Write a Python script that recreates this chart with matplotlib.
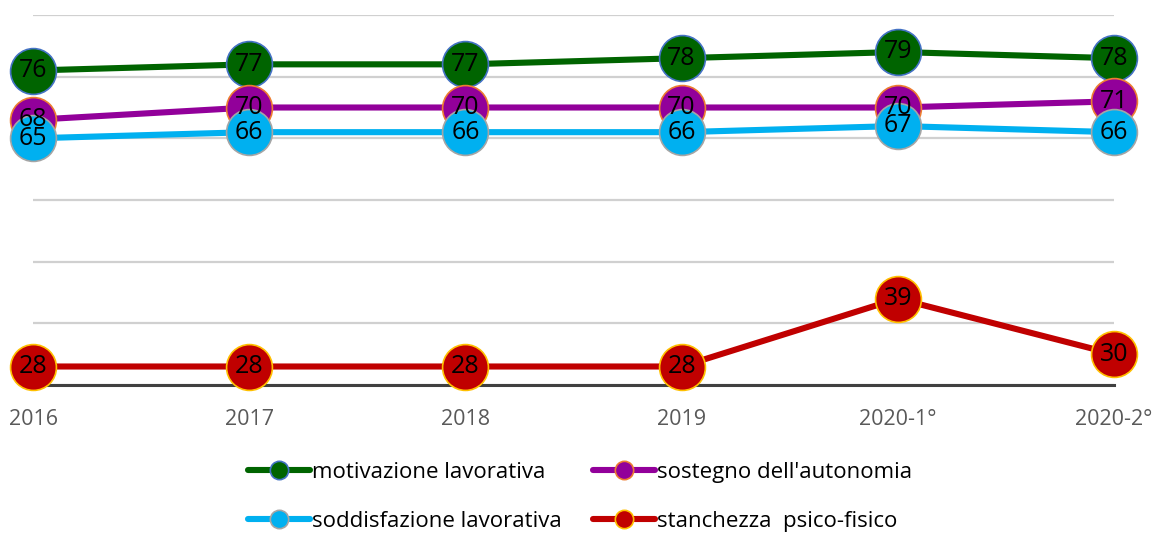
import matplotlib
matplotlib.use("Agg")
import matplotlib.pyplot as plt

# ====================== Data ======================
periods = ["2016", "2017", "2018", "2019", "2020-1°", "2020-2°"]
motivazione = [76, 77, 77, 78, 79, 78]
sostegno = [68, 70, 70, 70, 70, 71]
soddisfazione = [65, 66, 66, 66, 67, 66]
stanchezza = [28, 28, 28, 28, 39, 30]

series_names = ["motivazione lavorativa", "sostegno dell'autonomia",
                "soddisfazione lavorativa", "stanchezza  psico-fisico"]

plt.rcParams["font.family"] = ["Open Sans", "DejaVu Sans"]

# ====================== Plot ======================
fig = plt.figure(figsize=(11.61, 5.33), dpi=100)
ax = fig.add_axes([33 / 1161, 148 / 533, 1081 / 1161, 370 / 533])

x = list(range(len(periods)))
styles = [
    (motivazione, "#006400", "#4472C4"),
    (sostegno, "#92009A", "#ED7D31"),
    (soddisfazione, "#00B0F0", "#A5A5A5"),
    (stanchezza, "#C00000", "#FFC000"),
]

handles = []
for i, (vals, col, edge) in enumerate(styles):
    h, = ax.plot(x, vals, color=col, lw=4.4, marker="o", ms=33,
                 mfc=col, mec=edge, mew=1.2, zorder=3 + i, clip_on=False,
                 solid_capstyle="round", label=series_names[i])
    handles.append(h)
    # data labels sit on top of every series, like the original
    for xi, v in zip(x, vals):
        ax.text(xi, v, str(v), ha="center", va="center", fontsize=18,
                color="black", zorder=20)

ax.set_xlim(0, 5)
ax.set_ylim(25, 85)
ax.set_yticks(range(25, 86, 10))
ax.yaxis.grid(True, color="#D0D0D0", lw=1.6)
ax.set_axisbelow(True)
ax.tick_params(axis="y", left=False, labelleft=False)
ax.tick_params(axis="x", length=0, pad=17, labelsize=15.5, labelcolor="#595959")
ax.set_xticks(x)
ax.set_xticklabels(periods)
for s in ["top", "left", "right"]:
    ax.spines[s].set_visible(False)
ax.spines["bottom"].set_color("#404040")
ax.spines["bottom"].set_linewidth(2.2)
ax.spines["bottom"].set_zorder(2)

# legend: row-wise order with 2 columns
order = [0, 2, 1, 3]
leg = fig.legend([handles[i] for i in order], [series_names[i] for i in order],
                 ncol=2, loc="center", bbox_to_anchor=(580 / 1161, 1 - 497 / 533),
                 frameon=False, fontsize=16, markerscale=0.4,
                 handlelength=2.8, handletextpad=0.1, columnspacing=1.4,
                 labelspacing=1.25)

plt.savefig("out.png", dpi=100)
